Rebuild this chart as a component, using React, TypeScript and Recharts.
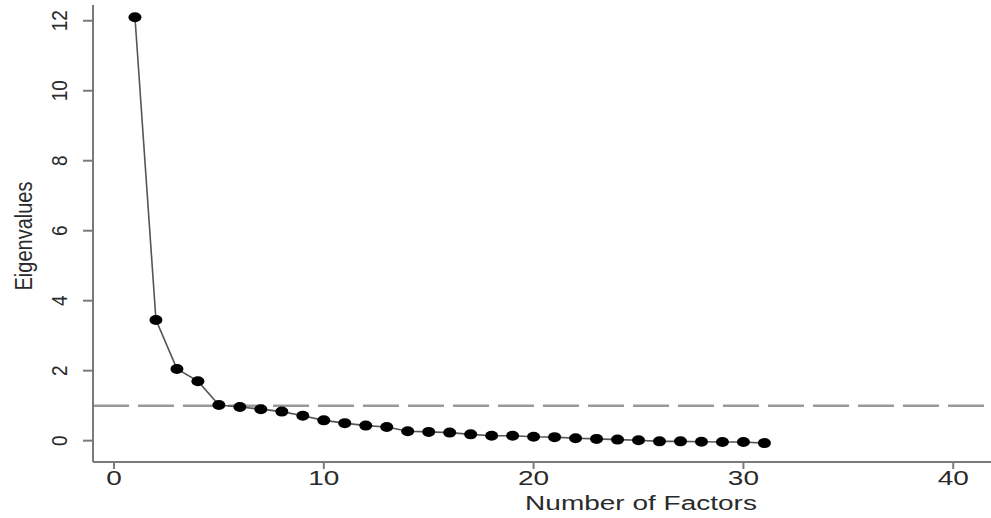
import React from "react"
import { LineChart, Line, XAxis, YAxis, ReferenceLine } from "recharts"

const factors = [
  1, 2, 3, 4, 5, 6, 7, 8, 9, 10, 11, 12, 13, 14, 15, 16, 17, 18, 19, 20, 21, 22, 23, 24, 25, 26, 27, 28, 29, 30, 31,
]
const eigenvalues = [
  12.1, 3.45, 2.05, 1.7, 1.02, 0.96, 0.9, 0.83, 0.71, 0.58, 0.5, 0.43, 0.39, 0.27, 0.25, 0.23, 0.18, 0.14, 0.14, 0.11,
  0.1, 0.07, 0.05, 0.03, 0.01, -0.02, -0.02, -0.03, -0.04, -0.04, -0.07,
]
const xTicks = [0, 10, 20, 30, 40]
const yTicks = [0, 2, 4, 6, 8, 10, 12]
const kaiserCutoff = 1

const data = factors.map((f, i) => ({ factor: f, value: eigenvalues[i] }))

const FONT = "'Liberation Sans', Arial, Helvetica, sans-serif"
const AXIS = "#7a7a7a"
const TEXT = "#2a2a2a"

const XTick = (props: any) => {
  const { x, y, payload } = props
  return (
    <text
      transform={`translate(${x},${y + 14}) scale(1.4,1)`}
      textAnchor="middle"
      fontSize={20}
      fontFamily={FONT}
      fill={TEXT}
    >
      {payload.value}
    </text>
  )
}

const YTick = (props: any) => {
  const { y, payload } = props
  return (
    <text
      transform={`translate(67,${y}) scale(1.15,1) rotate(-90)`}
      textAnchor="middle"
      fontSize={19}
      fontFamily={FONT}
      fill={TEXT}
    >
      {payload.value}
    </text>
  )
}

const Dot = (props: any) => {
  const { cx, cy, index } = props
  if (cx == null || cy == null) return null
  return <ellipse key={index} cx={cx} cy={cy} rx={6.5} ry={5} fill="#000" />
}

export default function App() {
  return (
    <div style={{ position: "absolute", left: 0, top: 0, background: "#fff" }}>
      <LineChart width={991} height={518} data={data} margin={{ top: 5, right: 0, bottom: 0, left: 0 }}>
        <XAxis
          dataKey="factor"
          type="number"
          domain={[-1, 41.8]}
          allowDataOverflow
          ticks={xTicks}
          height={56}
          tickSize={7}
          axisLine={{ stroke: AXIS, strokeWidth: 2 }}
          tickLine={{ stroke: AXIS, strokeWidth: 2 }}
          tick={<XTick />}
          label={{
            value: "Number of Factors",
            content: () => (
              <text
                transform="translate(641,510) scale(1.4,1)"
                textAnchor="middle"
                fontSize={20}
                fontFamily={FONT}
                fill={TEXT}
              >
                Number of Factors
              </text>
            ),
          }}
        />
        <YAxis
          type="number"
          domain={[-0.61, 12.45]}
          allowDataOverflow
          ticks={yTicks}
          width={93}
          tickSize={10}
          axisLine={{ stroke: AXIS, strokeWidth: 2 }}
          tickLine={{ stroke: AXIS, strokeWidth: 2 }}
          tick={<YTick />}
          label={{
            value: "Eigenvalues",
            content: () => (
              <text
                transform="translate(32,236) scale(1.15,1) rotate(-90)"
                textAnchor="middle"
                fontSize={20}
                fontFamily={FONT}
                fill={TEXT}
              >
                Eigenvalues
              </text>
            ),
          }}
        />
        <ReferenceLine y={kaiserCutoff} stroke="#999" strokeWidth={2.5} strokeDasharray="36 9" />
        <Line
          dataKey="value"
          stroke="#555"
          strokeWidth={1.6}
          dot={<Dot />}
          activeDot={false}
          isAnimationActive={false}
        />
      </LineChart>
    </div>
  )
}
